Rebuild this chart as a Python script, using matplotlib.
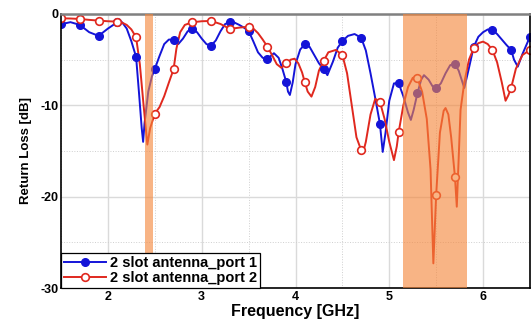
"""Return loss of the 2 slot antenna, port 1 and port 2."""

import matplotlib

matplotlib.use("Agg")

import matplotlib.pyplot as plt
from matplotlib.lines import Line2D
from matplotlib.ticker import MultipleLocator

# port 1 trace (GHz, dB)
freq_p1 = [1.50, 1.60, 1.70, 1.80, 1.90, 2.00, 2.10, 2.15, 2.20, 2.25, 2.30, 2.33,
           2.36, 2.375, 2.39, 2.43, 2.47, 2.50, 2.55, 2.60, 2.65, 2.70, 2.75, 2.80,
           2.85, 2.90, 2.95, 3.00, 3.05, 3.10, 3.15, 3.20, 3.25, 3.30, 3.35, 3.40,
           3.45, 3.50, 3.55, 3.60, 3.65, 3.70, 3.77, 3.82, 3.86, 3.90, 3.92, 3.94,
           3.97, 4.00, 4.05, 4.10, 4.15, 4.20, 4.25, 4.30, 4.34, 4.40, 4.45, 4.50,
           4.56, 4.63, 4.70, 4.75, 4.80, 4.85, 4.90, 4.93, 4.96, 5.00, 5.05, 5.10,
           5.15, 5.20, 5.23, 5.26, 5.30, 5.34, 5.37, 5.42, 5.46, 5.50, 5.55, 5.60,
           5.65, 5.70, 5.74, 5.80, 5.85, 5.90, 5.95, 6.00, 6.05, 6.10, 6.15, 6.20,
           6.25, 6.30, 6.33, 6.37, 6.42, 6.50]
rl_p1 = [-1.13, -0.9, -1.2, -2.0, -2.4, -1.6, -0.9, -0.9, -1.6, -3.0, -4.7, -8.5,
         -12.5, -14.0, -12.0, -8.5, -6.8, -6.0, -4.6, -3.3, -2.8, -2.85, -3.3, -2.7,
         -1.9, -1.64, -2.0, -2.7, -3.3, -3.47, -2.9, -1.9, -1.1, -0.91, -0.95, -1.2,
         -1.5, -1.86, -3.0, -4.2, -4.8, -4.93, -4.3, -4.8, -6.0, -7.4, -8.5, -8.87,
         -7.5, -5.5, -3.9, -3.3, -3.6, -4.5, -5.4, -6.05, -6.7, -5.2, -3.7, -2.96,
         -2.4, -2.2, -2.6, -4.0, -6.5, -9.2, -12.0, -15.1, -13.0, -9.5, -7.6, -7.6,
         -9.0, -10.8, -11.6, -10.5, -8.7, -7.2, -6.7, -7.2, -7.9, -8.14, -7.6, -6.5,
         -5.6, -5.5, -6.2, -8.1, -5.9, -3.6, -2.5, -2.0, -1.7, -1.75, -2.2, -2.8,
         -3.4, -3.94, -5.0, -5.77, -4.4, -2.5]

# port 2 trace (GHz, dB)
freq_p2 = [1.50, 1.60, 1.70, 1.80, 1.90, 2.00, 2.10, 2.15, 2.20, 2.25, 2.30, 2.34,
           2.38, 2.42, 2.45, 2.50, 2.55, 2.60, 2.65, 2.70, 2.73, 2.77, 2.82, 2.90,
           3.00, 3.10, 3.20, 3.30, 3.40, 3.50, 3.55, 3.60, 3.65, 3.70, 3.75, 3.80,
           3.85, 3.90, 3.95, 3.99, 4.03, 4.07, 4.10, 4.13, 4.17, 4.21, 4.25, 4.30,
           4.35, 4.43, 4.50, 4.55, 4.60, 4.65, 4.70, 4.72, 4.75, 4.80, 4.85, 4.90,
           4.95, 5.00, 5.05, 5.08, 5.10, 5.15, 5.20, 5.25, 5.28, 5.30, 5.35, 5.40,
           5.44, 5.47, 5.50, 5.54, 5.58, 5.60, 5.63, 5.66, 5.70, 5.72, 5.76, 5.80,
           5.85, 5.90, 5.95, 6.00, 6.05, 6.10, 6.15, 6.20, 6.24, 6.27, 6.30, 6.35,
           6.42, 6.50]
rl_p2 = [-0.48, -0.5, -0.55, -0.65, -0.73, -0.8, -0.84, -0.95, -1.2, -1.7, -2.55, -5.5,
         -10.0, -14.3, -12.5, -10.9, -10.2, -9.0, -7.5, -6.05, -3.8, -2.0, -1.2, -0.91,
         -0.8, -0.77, -1.1, -1.64, -1.5, -1.39, -1.6, -2.1, -2.8, -3.58, -4.5, -5.5,
         -5.9, -5.4, -5.0, -4.9, -5.4, -6.4, -7.5, -8.5, -9.05, -8.0, -6.2, -5.15,
         -4.2, -3.94, -4.5, -6.5, -10.0, -13.5, -14.9, -15.2, -14.0, -11.0, -9.3, -9.6,
         -11.5, -14.0, -16.0, -14.5, -12.95, -10.0, -8.0, -7.0, -6.9, -7.04, -8.5, -11.5,
         -17.0, -27.3, -19.8, -13.0, -10.6, -10.3, -11.0, -13.5, -17.8, -21.1, -10.5, -7.5,
         -5.0, -3.76, -3.2, -3.03, -3.3, -3.94, -5.3, -7.5, -9.5, -8.9, -8.07, -6.0,
         -4.5, -3.94]

# markers every 0.2 GHz
freq_mark = [1.5, 1.7, 1.9, 2.1, 2.3, 2.5, 2.7, 2.9, 3.1, 3.3, 3.5, 3.7, 3.9,
             4.1, 4.3, 4.5, 4.7, 4.9, 5.1, 5.3, 5.5, 5.7, 5.9, 6.1, 6.3, 6.5]
mark_p1 = [-1.13, -1.2, -2.4, -0.9, -4.7, -6.0, -2.85, -1.64, -3.47, -0.91, -1.86,
           -4.93, -7.4, -3.3, -6.05, -2.96, -2.6, -12.0, -7.6, -8.7, -8.14, -5.5,
           -3.6, -1.75, -3.94, -2.5]
mark_p2 = [-0.48, -0.55, -0.73, -0.84, -2.55, -10.9, -6.05, -0.91, -0.77, -1.64,
           -1.39, -3.58, -5.4, -7.5, -5.15, -4.5, -14.9, -9.6, -12.95, -7.04, -19.8,
           -17.8, -3.76, -3.94, -8.07, -3.94]

# frequency bands highlighted (GHz)
bands = [(2.40, 2.485), (5.15, 5.825)]

labels = ["2 slot antenna_port 1", "2 slot antenna_port 2"]

BLUE = "#1414D8"
RED = "#E0281E"
BAND = "#F5863A"

plt.rcParams["font.family"] = ["Liberation Sans", "DejaVu Sans"]
plt.rcParams["axes.unicode_minus"] = False

fig = plt.figure(figsize=(5.31, 3.24), dpi=100)
ax = fig.add_axes([0.115, 0.111, 0.883, 0.846])

ax.plot(freq_p1, rl_p1, color=BLUE, linewidth=1.4, zorder=2)
ax.plot(freq_p2, rl_p2, color=RED, linewidth=1.4, zorder=2)
ax.plot(freq_mark, mark_p1, linestyle="none", marker="o", markersize=5.5,
        color=BLUE, zorder=2.2)
ax.plot(freq_mark, mark_p2, linestyle="none", marker="o", markersize=5.5,
        markerfacecolor="white", markeredgecolor=RED, markeredgewidth=1.2, zorder=2.3)

for lo, hi in bands:
    ax.axvspan(lo, hi, color=BAND, alpha=0.62, linewidth=0, zorder=3)

ax.set_xlim(1.5, 6.5)
ax.set_ylim(-30, 0)
ax.xaxis.set_major_locator(MultipleLocator(1))
ax.xaxis.set_minor_locator(MultipleLocator(0.5))
ax.yaxis.set_major_locator(MultipleLocator(10))
ax.yaxis.set_minor_locator(MultipleLocator(5))
ax.grid(True, which="major", color="#DADADA", linewidth=1.0, zorder=0)
ax.grid(True, which="minor", color="#CFCFCF", linewidth=0.7, linestyle=":", zorder=0)
ax.set_axisbelow(True)

ax.tick_params(which="both", length=0, labelsize=9, pad=2)
for label in ax.get_xticklabels() + ax.get_yticklabels():
    label.set_fontweight("bold")

ax.spines["top"].set_color("#808080")
ax.spines["top"].set_linewidth(1.8)
for side in ("left", "bottom", "right"):
    ax.spines[side].set_color("black")
    ax.spines[side].set_linewidth(1.2)

ax.set_xlabel("Frequency [GHz]", fontsize=11.5, fontweight="bold", labelpad=1)
ax.set_ylabel("Return Loss [dB]", fontsize=9.5, fontweight="bold", labelpad=6)

handles = [
    Line2D([], [], color=BLUE, linewidth=1.4, marker="o", markersize=5.5),
    Line2D([], [], color=RED, linewidth=1.4, marker="o", markersize=5.5,
           markerfacecolor="white", markeredgecolor=RED, markeredgewidth=1.2),
]
legend = ax.legend(handles, labels, loc="lower left", borderaxespad=0,
                   fancybox=False, framealpha=1, edgecolor="black",
                   handlelength=2.9, handletextpad=0.25, borderpad=0.2,
                   labelspacing=0.05, prop={"size": 10.5, "weight": "bold"})
legend.get_frame().set_linewidth(0.9)
legend.set_zorder(5)

fig.savefig("out.png", dpi=100)
plt.close(fig)
